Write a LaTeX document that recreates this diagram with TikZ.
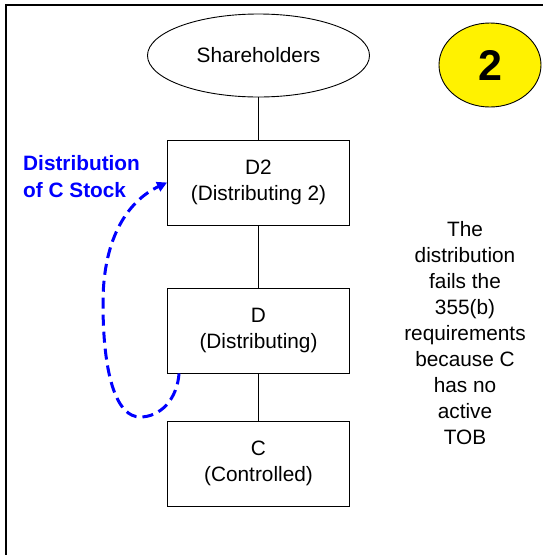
\documentclass[tikz,border=0pt]{standalone}
\usepackage{fontspec}
\setmainfont{Liberation Sans}
\usetikzlibrary{shapes,arrows,arrows.meta,positioning}
\newcommand{\corp}[2]{#1\\(#2)}

\begin{document}
\begin{tikzpicture}[x=1pt, y=-1pt, node distance=130pt, auto,
    every node/.style={font=\fontsize{20.8}{26}\selectfont},
    entity/.style={draw, line width=0.9pt, minimum width=182pt, minimum height=85pt, align=center, inner sep=0pt},
    holder/.style={draw, ellipse, line width=0.9pt, minimum width=222pt, minimum height=83pt},
    badge/.style={draw, ellipse, fill=yellow, line width=0.9pt, minimum width=102pt, minimum height=84pt, font=\fontsize{43}{43}\selectfont\bfseries},
    caption/.style={text=blue, align=left, inner sep=0pt, font=\fontsize{20.8}{27}\selectfont\bfseries},
    link/.style={line width=0.9pt},
    flow/.style={blue, line width=3pt, dash pattern=on 11pt off 6pt, -{Triangle[length=10pt,width=10pt]}}]
    \useasboundingbox (0,0) rectangle (542,555);
    \draw[line width=2.4pt] (6,570) |- (570,5);

    \node[holder] (share) at (258.5,55.5) {Shareholders};
    \node[entity, below of=share, node distance=127pt] (dtwo) {\corp{D2}{Distributing 2}};
    \draw[link] (share) -- (dtwo);
    \node[entity, below of=dtwo, node distance=148pt] (dmid) {\corp{D}{Distributing}};
    \draw[link] (dtwo) -- (dmid);
    \node[entity, below of=dmid, node distance=133pt] (ctrl) {\corp{C}{Controlled}};
    \draw[link] (dmid) -- (ctrl);

    \node[badge] (num) at (490,65) {2};
    \node[align=center] (reason) at (465,333) {The\\distribution\\fails the\\355(b)\\requirements\\because C\\has no\\active\\TOB};

    \node[caption, anchor=west] (dist) at (23,177) {Distribution\\of C Stock};
    \coordinate (lowturn) at (140,417);
    \coordinate (leftturn) at (103,303);
    \draw[flow] ([xshift=12pt]dmid.south west) .. controls (177,400) and (160,417) .. (lowturn)
        .. controls (118,417) and (103,380) .. (leftturn)
        .. controls (103,235) and (130,200) .. (dtwo.west);
\end{tikzpicture}
\end{document}
